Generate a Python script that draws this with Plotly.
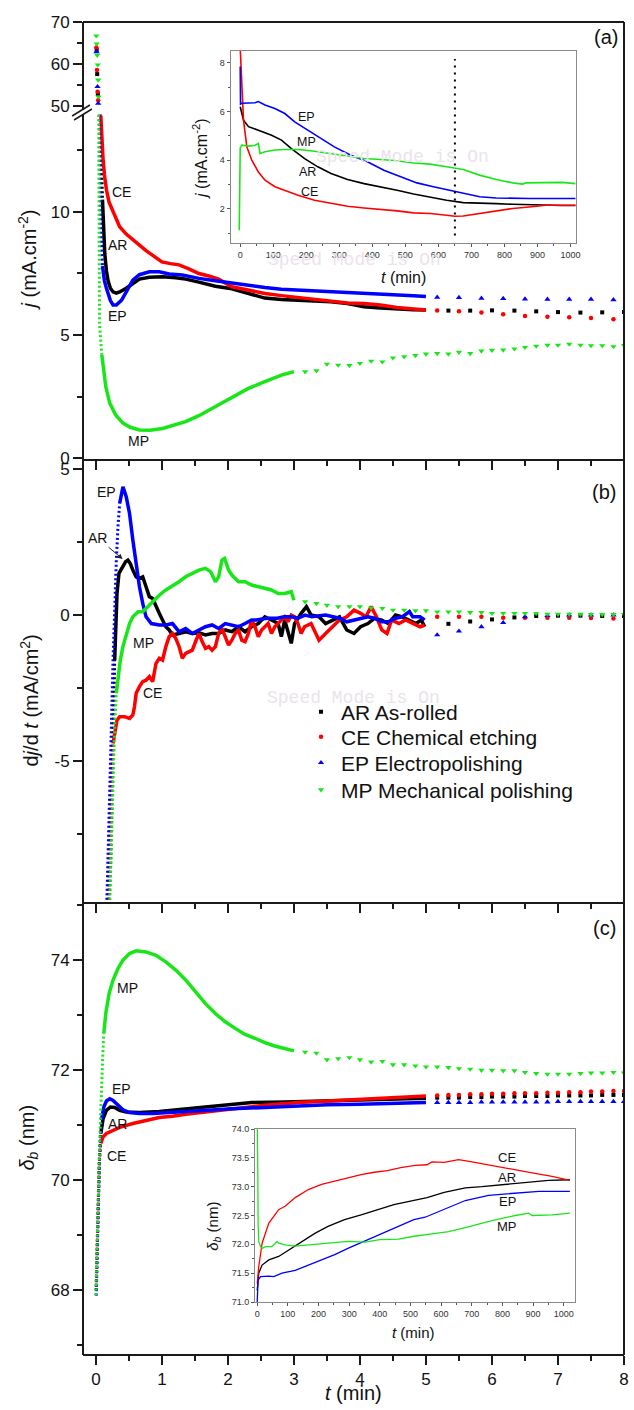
import plotly.graph_objects as go

# ====================== DATA ======================
# ---- Panel (a): current density j (mA.cm-2) vs t (min)
# upper (broken) part of the axis: first points
a_top_ar_t = [0.012, 0.02, 0.03]
a_top_ar_j = [63.3, 57.6, 52.9]
a_top_ce_t = [0.008, 0.016, 0.026, 0.035]
a_top_ce_j = [63.9, 58.6, 53.4, 51.4]
a_top_ep_t = [0.01, 0.025, 0.035]
a_top_ep_j = [62.9, 54.6, 50.6]
a_top_mp_t = [0.005, 0.012, 0.02, 0.028, 0.035, 0.04]
a_top_mp_j = [66.7, 64.8, 62.1, 59.8, 56.2, 52.2]
# steep (sparsely sampled) initial drop
a_st_ar_t = [0.065, 0.07, 0.08, 0.09, 0.1]
a_st_ar_j = [14.5, 13.8, 12.4, 11.3, 10.5]
a_st_ce_t = [0.068, 0.075]
a_st_ce_j = [14.5, 13.9]
a_st_ep_t = [0.055, 0.06, 0.07, 0.085, 0.1]
a_st_ep_j = [14.5, 12.2, 10.0, 8.7, 7.8]
a_st_mp_t = [0.042, 0.045, 0.048, 0.055, 0.07, 0.09]
a_st_mp_j = [14.5, 12.0, 8.0, 5.5, 4.9, 4.2]
# dense part
a_ar_t = [0.1, 0.11, 0.135, 0.16, 0.185, 0.22, 0.26, 0.31, 0.36, 0.46, 0.56, 0.66, 0.81, 1.01, 1.21, 1.36,
          1.56, 1.81, 2.06, 2.31, 2.56, 2.81, 3.06, 3.31, 3.56, 3.81, 4.06, 4.31, 4.56, 4.81, 5.0]
a_ar_j = [10.5, 9.6, 8.3, 7.6, 7.2, 6.9, 6.75, 6.7, 6.75, 6.9, 7.1, 7.27, 7.35, 7.37, 7.33, 7.27,
          7.15, 6.98, 6.88, 6.7, 6.5, 6.44, 6.41, 6.38, 6.35, 6.28, 6.15, 6.1, 6.05, 6.03, 6.02]
a_ce_t = [0.075, 0.09, 0.11, 0.13, 0.16, 0.2, 0.26, 0.36, 0.46, 0.56, 0.66, 0.76, 0.88, 1.0, 1.13, 1.26, 1.4,
          1.56, 1.71, 1.86, 2.06, 2.31, 2.56, 2.81, 3.06, 3.31, 3.56, 3.81, 4.06, 4.31, 4.56, 4.81, 5.0]
a_ce_j = [13.9, 12.9, 12.1, 11.5, 10.9, 10.4, 10.0, 9.4, 9.1, 8.86, 8.65, 8.43, 8.2, 7.97, 7.9, 7.85, 7.7,
          7.5, 7.4, 7.27, 6.96, 6.82, 6.69, 6.6, 6.52, 6.45, 6.38, 6.3, 6.28, 6.22, 6.12, 6.06, 6.02]
a_ep_t = [0.1, 0.13, 0.16, 0.185, 0.22, 0.26, 0.31, 0.39, 0.47, 0.56, 0.66, 0.81, 0.96, 1.11, 1.31,
          1.56, 1.81, 2.06, 2.31, 2.56, 2.81, 3.06, 3.31, 3.56, 3.81, 4.06, 4.31, 4.56, 4.81, 5.0]
a_ep_j = [7.8, 7.2, 6.9, 6.7, 6.4, 6.22, 6.22, 6.42, 6.8, 7.23, 7.45, 7.57, 7.57, 7.48, 7.44,
          7.3, 7.2, 7.1, 7.0, 6.93, 6.86, 6.83, 6.8, 6.76, 6.72, 6.69, 6.65, 6.62, 6.59, 6.56]
a_mp_t = [0.09, 0.11, 0.15, 0.21, 0.3, 0.41, 0.52, 0.66, 0.82, 1.01, 1.16, 1.36, 1.56, 1.81, 2.06,
          2.31, 2.56, 2.81, 3.0]
a_mp_j = [4.2, 3.7, 2.9, 2.23, 1.75, 1.42, 1.25, 1.14, 1.13, 1.2, 1.32, 1.48, 1.72, 2.09, 2.45,
          2.83, 3.1, 3.37, 3.51]
# sparse tail points
t_sp_ce_ep = [5.17, 5.5, 5.84, 6.17, 6.5, 6.84, 7.17, 7.5, 7.84]
t_sp_ar = [5.34, 5.67, 6.0, 6.34, 6.67, 7.0, 7.34, 7.67, 8.0]
t_sp_mp = [3.17, 3.34, 3.5, 3.67, 3.84, 4.0, 4.17, 4.34, 4.5, 4.67, 4.84, 5.0, 5.17, 5.34, 5.5,
           5.67, 5.84, 6.0, 6.17, 6.34, 6.5, 6.67, 6.84, 7.0, 7.17, 7.34, 7.5, 7.67, 7.84, 8.0]
a_sp_ar_j = [5.99, 5.99, 6.0, 5.99, 5.96, 5.93, 5.91, 5.92, 5.93]
a_sp_ce_j = [5.99, 5.96, 5.91, 5.84, 5.77, 5.74, 5.72, 5.69, 5.64]
a_sp_ep_j = [6.53, 6.52, 6.49, 6.48, 6.46, 6.45, 6.45, 6.45, 6.43]
a_sp_mp_j = [3.51, 3.55, 3.82, 3.78, 3.76, 3.85, 3.94, 3.91, 4.07, 4.12, 4.17, 4.23, 4.25, 4.23, 4.3,
             4.25, 4.35, 4.38, 4.39, 4.44, 4.5, 4.55, 4.59, 4.59, 4.63, 4.59, 4.57, 4.57, 4.53, 4.58]

# ---- Panel (b): dj/dt (mA/cm2 per min)
b_st_ar_t = [0.2, 0.225, 0.245, 0.265, 0.275, 0.285]
b_st_ar_v = [-9.9, -8.39, -6.11, -3.82, -2.68, -1.54]
b_st_ce_t = [0.18, 0.2, 0.21, 0.225, 0.24, 0.26]
b_st_ce_v = [-9.9, -8.39, -7.25, -6.11, -4.97, -4.4]
b_st_ep_t = [0.165, 0.2, 0.235, 0.26, 0.29, 0.31, 0.335, 0.36]
b_st_ep_v = [-9.9, -7.25, -3.82, -1.54, 0.74, 1.88, 3.03, 3.82]
b_st_mp_t = [0.21, 0.225, 0.24, 0.255, 0.27, 0.285, 0.31]
b_st_mp_v = [-9.9, -8.39, -7.25, -6.11, -4.97, -3.82, -2.68]
b_ar_t = [0.285, 0.3, 0.32, 0.35, 0.4, 0.45, 0.485, 0.52, 0.56, 0.61, 0.66, 0.71, 0.76, 0.81, 0.86,
          0.91, 0.96, 1.01, 1.06, 1.11, 1.16, 1.26, 1.36, 1.46, 1.56, 1.66, 1.76, 1.86, 1.96, 2.06,
          2.16, 2.26, 2.36, 2.46, 2.56, 2.66, 2.76, 2.81, 2.86, 2.96, 3.01, 3.11, 3.19, 3.26, 3.38,
          3.48, 3.59, 3.69, 3.8, 3.91, 4.01, 4.12, 4.22, 4.33, 4.43, 4.54, 4.64, 4.75, 4.85, 4.93, 4.98]
b_ar_v = [-1.54, -0.40, 0.74, 1.43, 1.66, 1.83, 1.88, 1.77, 1.54, 1.31, 1.26, 1.31, 0.97, 0.63, 0.57,
          0.29, 0.06, -0.17, -0.40, -0.51, -0.68, -0.63, -0.57, -0.63, -0.61, -0.68, -0.63, -0.63, -0.51, -0.57,
          -0.40, -0.57, -0.40, -0.29, -0.06, -0.17, -0.29, -0.74, -0.17, -0.97, -0.29, 0.06, 0.29, 0.0, -0.06,
          -0.29, -0.17, -0.06, -0.51, -0.63, -0.40, -0.29, -0.11, -0.17, -0.29, 0.0, -0.06, -0.17, -0.29, -0.17, -0.40]
b_ce_t = [0.26, 0.285, 0.32, 0.36, 0.435, 0.51, 0.56, 0.585, 0.61, 0.66, 0.71, 0.76, 0.81, 0.86, 0.91,
          0.96, 1.01, 1.06, 1.11, 1.16, 1.21, 1.26, 1.31, 1.36, 1.41, 1.46, 1.51, 1.56, 1.61, 1.66,
          1.71, 1.76, 1.81, 1.86, 1.91, 1.96, 2.01, 2.06, 2.11, 2.16, 2.21, 2.26, 2.31, 2.36, 2.41,
          2.46, 2.51, 2.56, 2.61, 2.66, 2.71, 2.76, 2.86, 2.91, 2.96, 3.01, 3.06, 3.11, 3.16, 3.26,
          3.38, 3.48, 3.59, 3.69, 3.8, 3.91, 4.01, 4.09, 4.17, 4.25, 4.33, 4.41, 4.48, 4.59, 4.69,
          4.8, 4.91, 4.98]
b_ce_v = [-4.4, -4.05, -3.6, -3.48, -3.48, -3.54, -3.42, -3.14, -2.68, -2.45, -2.28, -2.23, -2.11, -2.28, -1.66,
          -1.48, -1.54, -1.08, -0.74, -0.63, -0.80, -1.08, -1.48, -1.31, -1.26, -1.20, -0.91, -0.63, -0.91, -1.14,
          -1.08, -1.20, -1.08, -0.63, -0.46, -0.74, -1.03, -0.86, -0.63, -0.51, -0.86, -0.91, -0.63, -0.17, -0.40,
          -0.74, -0.51, -0.40, -0.29, -0.63, -0.40, -0.29, -0.06, -0.23, 0.0, -0.06, -0.29, -0.63, -0.40, -0.29,
          -0.86, -0.63, -0.40, -0.17, -0.06, 0.17, 0.06, -0.06, 0.29, -0.06, -0.51, -0.63, -0.17, -0.29, -0.17,
          -0.29, -0.40, -0.34]
b_ep_t = [0.36, 0.39, 0.41, 0.46, 0.51, 0.56, 0.61, 0.66, 0.71, 0.76, 0.84, 0.96, 1.06, 1.16, 1.26,
          1.36, 1.46, 1.56, 1.66, 1.76, 1.86, 1.96, 2.06, 2.16, 2.26, 2.36, 2.43, 2.59, 2.75, 2.85,
          2.96, 3.06, 3.17, 3.27, 3.48, 3.59, 3.69, 3.8, 3.91, 4.01, 4.12, 4.22, 4.33, 4.43, 4.54,
          4.64, 4.75, 4.8, 4.91, 4.98]
b_ep_v = [3.82, 4.28, 4.39, 4.05, 3.48, 2.57, 1.66, 0.97, 0.40, -0.06, -0.29, -0.34, -0.34, -0.29, -0.57,
          -0.46, -0.63, -0.51, -0.40, -0.34, -0.46, -0.29, -0.34, -0.40, -0.29, -0.17, -0.17, -0.11, -0.11, -0.06,
          -0.06, -0.11, 0.0, -0.06, 0.0, -0.06, -0.11, -0.23, -0.17, -0.11, -0.06, -0.11, -0.23, -0.23, -0.11,
          -0.06, 0.12, -0.06, -0.06, -0.17]
b_mp_t = [0.31, 0.335, 0.37, 0.41, 0.46, 0.51, 0.56, 0.64, 0.71, 0.79, 0.86, 0.96, 1.06, 1.16, 1.26,
          1.36, 1.46, 1.56, 1.66, 1.74, 1.81, 1.86, 1.91, 1.95, 2.01, 2.06, 2.16, 2.26, 2.36, 2.46,
          2.56, 2.66, 2.76, 2.86, 2.96, 2.99, 3.0]
b_mp_v = [-2.68, -2.11, -1.54, -1.08, -0.63, -0.29, -0.06, 0.11, 0.11, 0.29, 0.46, 0.68, 0.86, 0.99, 1.14,
          1.31, 1.43, 1.54, 1.60, 1.48, 1.14, 1.31, 1.88, 1.94, 1.54, 1.37, 1.14, 1.14, 1.03, 0.97,
          0.91, 0.86, 0.74, 0.74, 0.80, 0.63, 0.51]
b_sp_ar_v = [-0.30, -0.22, -0.15, -0.08, -0.03, -0.02, -0.02, -0.03, -0.03]
b_sp_ce_v = [-0.06, -0.06, -0.06, -0.09, -0.09, -0.09, -0.09, -0.10, -0.12]
b_sp_ep_v = [-0.68, -0.55, -0.40, -0.26, -0.06, -0.02, 0.0, 0.0, 0.0]
b_sp_mp_v = [0.46, 0.40, 0.34, 0.29, 0.29, 0.29, 0.25, 0.23, 0.17, 0.17, 0.15, 0.15, 0.11, 0.11, 0.11,
             0.09, 0.09, 0.06, 0.06, 0.06, 0.06, 0.06, 0.03, 0.03, 0.03, 0.03, 0.02, 0.02, 0.02, 0.02]

# ---- Panel (c): delta_b (nm)
c_st_ar_t = [0.005, 0.015, 0.025, 0.04, 0.055, 0.075]
c_st_ar_d = [68.0, 68.61, 69.21, 69.82, 70.42, 70.85]
c_st_ce_t = [0.005, 0.015, 0.025, 0.04, 0.055, 0.075]
c_st_ce_d = [68.06, 68.67, 69.27, 69.88, 70.36, 70.67]
c_st_ep_t = [0.005, 0.01, 0.02, 0.03, 0.045, 0.06, 0.085]
c_st_ep_d = [67.9, 68.18, 68.79, 69.39, 70.0, 70.61, 71.09]
c_st_mp_t = [0.0, 0.01, 0.02, 0.035, 0.05, 0.065, 0.08, 0.1, 0.12]
c_st_mp_d = [67.91, 68.48, 69.09, 69.7, 70.3, 70.91, 71.52, 72.12, 72.67]
c_ar_t = [0.075, 0.11, 0.16, 0.22, 0.285, 0.36, 0.46, 0.66, 0.96, 1.36, 1.86, 2.36, 2.86, 3.36, 3.86, 4.36, 5.0]
c_ar_d = [70.85, 71.12, 71.27, 71.33, 71.32, 71.27, 71.24, 71.23, 71.25, 71.30, 71.36, 71.41, 71.42, 71.44,
          71.46, 71.47, 71.49]
c_ce_t = [0.075, 0.11, 0.16, 0.26, 0.36, 0.56, 0.76, 0.96, 1.16, 1.36, 1.66, 2.06, 2.56, 3.06, 3.5, 4.0, 4.5, 5.0]
c_ce_d = [70.67, 70.79, 70.85, 70.91, 70.96, 71.03, 71.09, 71.14, 71.16, 71.2, 71.24, 71.3, 71.36, 71.41,
          71.44, 71.47, 71.50, 71.53]
c_ep_t = [0.085, 0.12, 0.16, 0.21, 0.26, 0.335, 0.41, 0.51, 0.66, 0.86, 1.16, 1.56, 2.06, 2.56, 3.0, 3.5, 4.0, 4.5, 5.0]
c_ep_d = [71.09, 71.33, 71.44, 71.48, 71.45, 71.36, 71.28, 71.23, 71.21, 71.21, 71.23, 71.27, 71.30, 71.32,
          71.35, 71.37, 71.38, 71.40, 71.41]
c_mp_t = [0.12, 0.15, 0.2, 0.26, 0.335, 0.41, 0.51, 0.61, 0.76, 0.91, 1.06, 1.21, 1.36, 1.51, 1.66, 1.81,
          1.91, 1.96, 2.11, 2.26, 2.41, 2.56, 2.71, 2.86, 3.0]
c_mp_d = [72.67, 73.03, 73.39, 73.64, 73.85, 74.0, 74.12, 74.17, 74.15, 74.09, 73.97, 73.82, 73.64, 73.42,
          73.21, 73.03, 72.93, 72.88, 72.76, 72.65, 72.58, 72.5, 72.44, 72.39, 72.35]
t_sp_c = [5.17, 5.34, 5.5, 5.67, 5.84, 6.0, 6.17, 6.34, 6.5, 6.67, 6.84, 7.0, 7.17, 7.34, 7.5, 7.67, 7.84, 8.0]
c_sp_ar_d = [71.50, 71.50, 71.50, 71.51, 71.51, 71.52, 71.52, 71.52, 71.53, 71.53, 71.53, 71.54, 71.54,
             71.54, 71.54, 71.55, 71.55, 71.55]
c_sp_ce_d = [71.54, 71.55, 71.55, 71.56, 71.56, 71.57, 71.57, 71.58, 71.58, 71.58, 71.59, 71.59, 71.6,
             71.6, 71.61, 71.61, 71.62, 71.62]
c_sp_ep_d = [71.41, 71.41, 71.41, 71.41, 71.42, 71.42, 71.42, 71.42, 71.42, 71.42, 71.42, 71.43, 71.43,
             71.43, 71.43, 71.43, 71.43, 71.43]
c_sp_mp_d = [72.33, 72.31, 72.19, 72.21, 72.23, 72.19, 72.15, 72.16, 72.10, 72.10, 72.08, 72.06, 72.06,
             72.05, 72.03, 72.02, 72.0, 72.0, 71.99, 71.99, 71.96, 71.94, 71.93, 71.93, 71.93, 71.94,
             71.95, 71.95, 71.96, 71.95]

# ---- Inset (a): j vs t over 1000 min
ia_ce_t = [0, 5, 10, 20, 35, 55, 75, 105, 135, 175, 225, 275, 325, 375, 425, 475, 525, 575, 625, 650,
           675, 725, 775, 825, 875, 925, 975, 1015]
ia_ce_j = [8.6, 7.01, 5.64, 4.54, 3.99, 3.51, 3.17, 2.90, 2.76, 2.55, 2.35, 2.21, 2.10, 2.03, 1.98, 1.91,
           1.83, 1.80, 1.73, 1.69, 1.70, 1.80, 1.91, 2.01, 2.07, 2.14, 2.14, 2.14]
ia_ar_t = [0, 10, 25, 55, 95, 125, 155, 195, 235, 275, 325, 375, 425, 475, 525, 575, 625, 675, 725, 775,
           825, 875, 925, 975, 1015]
ia_ar_j = [6.19, 5.64, 5.37, 5.23, 5.02, 4.82, 4.47, 4.06, 3.72, 3.45, 3.20, 3.03, 2.90, 2.76, 2.60, 2.46,
           2.35, 2.25, 2.24, 2.21, 2.18, 2.16, 2.13, 2.13, 2.13]
ia_ep_t = [0, 1, 5, 25, 45, 55, 75, 105, 135, 165, 205, 245, 285, 335, 385, 435, 485, 535, 585, 635,
           675, 725, 775, 825, 875, 925, 975, 1015]
ia_ep_j = [7.84, 6.3, 6.33, 6.33, 6.35, 6.4, 6.26, 6.12, 5.91, 5.57, 5.23, 4.89, 4.54, 4.20, 3.93, 3.58,
           3.31, 3.06, 2.90, 2.76, 2.62, 2.49, 2.44, 2.42, 2.42, 2.42, 2.42, 2.42]
ia_mp_t = [-3, -2, 0, 2, 5, 25, 45, 55, 60, 75, 105, 135, 175, 225, 275, 325, 375, 425, 475, 525,
           575, 625, 675, 725, 775, 825, 855, 865, 925, 975, 1015]
ia_mp_j = [1.11, 3.5, 4.5, 4.54, 4.61, 4.57, 4.61, 4.68, 4.27, 4.34, 4.41, 4.43, 4.43, 4.36, 4.27, 4.16,
           4.06, 4.02, 3.97, 3.88, 3.83, 3.72, 3.61, 3.38, 3.20, 3.06, 3.01, 3.06, 3.08, 3.08, 3.03]
ia_mark_t = 650   # dotted vertical marker in inset (a)

# ---- Inset (c): delta_b vs t over 1000 min
ic_ce_t = [0, 5, 16, 38, 70, 91, 124, 167, 210, 253, 298, 339, 382, 425, 468, 516, 554, 570, 610, 657,
           701, 750, 788, 840, 897, 962, 1020]
ic_ce_d = [71.32, 71.61, 72.02, 72.37, 72.6, 72.66, 72.81, 72.95, 73.04, 73.1, 73.16, 73.21, 73.25, 73.28,
           73.33, 73.37, 73.38, 73.43, 73.42, 73.47, 73.43, 73.38, 73.34, 73.3, 73.24, 73.18, 73.11]
ic_ar_t = [0, 5, 16, 38, 70, 102, 145, 188, 231, 285, 339, 392, 446, 500, 554, 610, 679, 733, 790, 842,
           900, 951, 1020]
ic_ar_d = [71.2, 71.5, 71.64, 71.73, 71.79, 71.9, 72.05, 72.19, 72.31, 72.43, 72.51, 72.6, 72.69, 72.75,
           72.81, 72.9, 72.98, 73.0, 73.03, 73.06, 73.09, 73.11, 73.12]
ic_ep_t = [0, 3, 11, 38, 54, 81, 124, 167, 210, 253, 296, 339, 382, 425, 468, 511, 548, 625, 679, 755,
           842, 919, 1020]
ic_ep_d = [71.0, 71.38, 71.44, 71.45, 71.44, 71.5, 71.55, 71.64, 71.73, 71.82, 71.93, 72.03, 72.14, 72.24,
           72.34, 72.43, 72.47, 72.64, 72.76, 72.85, 72.89, 72.92, 72.92]
ic_mp_t = [0, 1, 2, 3, 5, 11, 16, 27, 48, 59, 65, 70, 91, 124, 167, 210, 253, 296, 352, 400, 461, 511,
           570, 625, 679, 766, 842, 886, 897, 962, 1020]
ic_mp_d = [74.3, 74.0, 73.18, 72.37, 72.05, 71.96, 71.93, 71.96, 71.96, 72.02, 72.05, 72.02, 71.99, 71.97,
           71.99, 72.01, 72.02, 72.05, 72.04, 72.08, 72.09, 72.14, 72.18, 72.22, 72.29, 72.41, 72.5, 72.54,
           72.5, 72.51, 72.54]

series_names = {"AR": "AR As-rolled", "CE": "CE Chemical etching",
                "EP": "EP Electropolishing", "MP": "MP Mechanical polishing"}

# ====================== STYLE / LAYOUT ======================
W, H = 634, 1410
ML, MR, MT, MB = 83, 5, 22, 55
PW, PH = W - ML - MR, H - MT - MB
BOT = H - MB
FONT = "Liberation Sans, Arial, sans-serif"
FR = "#1a1a1a"
COL = {"AR": "#000000", "CE": "#ff0000", "EP": "#0000ff", "MP": "#19e619"}
SYM = {"AR": "square", "CE": "circle", "EP": "triangle-up", "MP": "triangle-down"}
MSZ = {"AR": 4, "CE": 4.5, "EP": 5.5, "MP": 5.5}
LEG = {"AR": ("legend", 712), "CE": ("legend2", 737), "EP": ("legend3", 763), "MP": ("legend4", 790)}


def px(x):
    return (x - ML) / PW


def py(y):
    return (BOT - y) / PH


def ydom(top, bot):
    return [py(bot), py(top)]


fig = go.Figure()


def line(t, y, k, xa, ya, w=3.5):
    assert len(t) == len(y)
    fig.add_trace(go.Scatter(x=t, y=y, mode="lines", line=dict(color=COL[k], width=w),
                             xaxis=xa, yaxis=ya, showlegend=False, hoverinfo="skip"))


def dotted(t, y, k, xa, ya):
    assert len(t) == len(y)
    fig.add_trace(go.Scatter(x=t, y=y, mode="lines",
                             line=dict(color=COL[k], width=3, dash="2px,2.5px"),
                             xaxis=xa, yaxis=ya, showlegend=False, hoverinfo="skip"))


def marks(t, y, k, xa, ya, legend=False):
    assert len(t) == len(y)
    extra = dict(legend=LEG[k][0]) if legend else {}
    fig.add_trace(go.Scatter(x=t, y=y, mode="markers", name=series_names[k],
                             marker=dict(symbol=SYM[k], size=MSZ[k], color=COL[k], line=dict(width=0)),
                             xaxis=xa, yaxis=ya, showlegend=legend, hoverinfo="skip", **extra))


# Panel (a)
A = {
    "AR": (a_top_ar_t, a_top_ar_j, a_st_ar_t, a_st_ar_j, a_ar_t, a_ar_j, t_sp_ar, a_sp_ar_j),
    "CE": (a_top_ce_t, a_top_ce_j, a_st_ce_t, a_st_ce_j, a_ce_t, a_ce_j, t_sp_ce_ep, a_sp_ce_j),
    "EP": (a_top_ep_t, a_top_ep_j, a_st_ep_t, a_st_ep_j, a_ep_t, a_ep_j, t_sp_ce_ep, a_sp_ep_j),
    "MP": (a_top_mp_t, a_top_mp_j, a_st_mp_t, a_st_mp_j, a_mp_t, a_mp_j, t_sp_mp, a_sp_mp_j),
}
for k, (tt, tj, st, sj, dt, dj, spt, spj) in A.items():
    marks(tt, tj, k, "x3", "y4")
    dotted(st, sj, k, "x3", "y3")
    line(dt, dj, k, "x3", "y3")
    marks(spt, spj, k, "x3", "y3", legend=True)

# Panel (b)
B = {
    "AR": (b_st_ar_t, b_st_ar_v, b_ar_t, b_ar_v, t_sp_ar, b_sp_ar_v),
    "CE": (b_st_ce_t, b_st_ce_v, b_ce_t, b_ce_v, t_sp_ce_ep, b_sp_ce_v),
    "EP": (b_st_ep_t, b_st_ep_v, b_ep_t, b_ep_v, t_sp_ce_ep, b_sp_ep_v),
    "MP": (b_st_mp_t, b_st_mp_v, b_mp_t, b_mp_v, t_sp_mp, b_sp_mp_v),
}
for k, (st, sv, dt, dv, spt, spv) in B.items():
    dotted(st, sv, k, "x2", "y2")
    line(dt, dv, k, "x2", "y2")
    marks(spt, spv, k, "x2", "y2")

# Panel (c)
C = {
    "AR": (c_st_ar_t, c_st_ar_d, c_ar_t, c_ar_d, t_sp_c, c_sp_ar_d),
    "CE": (c_st_ce_t, c_st_ce_d, c_ce_t, c_ce_d, t_sp_c, c_sp_ce_d),
    "EP": (c_st_ep_t, c_st_ep_d, c_ep_t, c_ep_d, t_sp_c, c_sp_ep_d),
    "MP": (c_st_mp_t, c_st_mp_d, c_mp_t, c_mp_d, t_sp_mp, c_sp_mp_d),
}
for k, (st, sd, dt, dd, spt, spd) in C.items():
    dotted(st, sd, k, "x", "y")
    line(dt, dd, k, "x", "y")
    marks(spt, spd, k, "x", "y")

# Insets
for k, (t, j) in {"AR": (ia_ar_t, ia_ar_j), "CE": (ia_ce_t, ia_ce_j),
                  "EP": (ia_ep_t, ia_ep_j), "MP": (ia_mp_t, ia_mp_j)}.items():
    line(t, j, k, "x5", "y5", w=1.6)
for k, (t, d) in {"AR": (ic_ar_t, ic_ar_d), "CE": (ic_ce_t, ic_ce_d),
                  "EP": (ic_ep_t, ic_ep_d), "MP": (ic_mp_t, ic_mp_d)}.items():
    line(t, d, k, "x6", "y6", w=1.3)

# ---------------- axes ----------------
tick_main = dict(ticks="outside", ticklen=9, tickwidth=1.5, tickcolor=FR, showgrid=False,
                 zeroline=False, showline=False, tickfont=dict(size=17, color="#111", family=FONT))
minor_main = dict(ticks="outside", ticklen=5, tickwidth=1.5, tickcolor=FR, showgrid=False)

xcommon = dict(range=[-0.195, 8.0], tickmode="linear", tick0=0, dtick=1, domain=[0, 1],
               minor=dict(minor_main, tickmode="linear", tick0=0, dtick=0.5), **tick_main)

layout_axes = dict(
    xaxis=dict(xcommon, anchor="y"),
    xaxis2=dict(xcommon, anchor="y2", matches="x", showticklabels=False),
    xaxis3=dict(xcommon, anchor="y3", matches="x", showticklabels=False),
    yaxis=dict(domain=ydom(903, 1355), range=[66.82, 75.04], anchor="x",
               tickmode="array", tickvals=[68, 70, 72, 74],
               minor=dict(minor_main, tickmode="array", tickvals=[67, 69, 71, 73, 75]), **tick_main),
    yaxis2=dict(domain=ydom(460, 903), range=[-9.86, 5.31], anchor="x2",
                tickmode="array", tickvals=[-5, 0, 5], ticktext=["-5", "0", "5"],
                minor=dict(minor_main, tickmode="array", tickvals=[-7.5, -2.5, 2.5]), **tick_main),
    yaxis3=dict(domain=ydom(114, 460), range=[-0.08, 13.98], anchor="x3",
                tickmode="array", tickvals=[0, 5, 10],
                minor=dict(minor_main, tickmode="array", tickvals=[2.5, 7.5, 12.5]), **tick_main),
    yaxis4=dict(domain=ydom(22, 110), range=[49.05, 70], anchor="x3",
                tickmode="array", tickvals=[50, 60, 70],
                minor=dict(minor_main, tickmode="array", tickvals=[55, 65]), **tick_main),
)

tick_in = dict(ticks="outside", ticklen=3, tickwidth=1, tickcolor="#555", showgrid=False,
               zeroline=False, showline=True, mirror=True, linecolor="#8a8a8a", linewidth=1.2,
               tickfont=dict(size=9, color="#333", family=FONT))
minor_in = dict(ticks="outside", ticklen=2, tickwidth=1, tickcolor="#555", showgrid=False)
layout_axes.update(
    xaxis5=dict(domain=[px(232), px(581)], anchor="y5", range=[-29, 1018], tickmode="linear",
                tick0=0, dtick=100, minor=dict(minor_in, tickmode="linear", tick0=0, dtick=50), **tick_in),
    yaxis5=dict(domain=ydom(51, 243), anchor="x5", range=[0.59, 8.48], tickmode="linear",
                tick0=0, dtick=2, minor=dict(minor_in, tickmode="linear", tick0=0, dtick=1), **tick_in),
    xaxis6=dict(domain=[px(256.7), px(579.3)], anchor="y6", range=[-6.8, 1036], tickmode="linear",
                tick0=0, dtick=100, minor=dict(minor_in, tickmode="linear", tick0=0, dtick=50), **tick_in),
    yaxis6=dict(domain=ydom(1129, 1302), anchor="x6", range=[71.0, 74.0], tickmode="linear",
                tick0=71, dtick=0.5, tickformat=".1f",
                minor=dict(minor_in, tickmode="linear", tick0=71, dtick=0.25), **tick_in),
)

# ---------------- legends (one per row, to match row spacing) ----------------
for k, (lname, rowy) in LEG.items():
    layout_axes[lname] = dict(x=px(303), y=py(rowy), xanchor="left", yanchor="middle",
                              bgcolor="rgba(0,0,0,0)", font=dict(size=21, family=FONT, color="#111"),
                              itemsizing="trace")

# ---------------- frames ----------------
shapes = []


def seg(x0, y0, x1, y1, w=2, color=FR):
    shapes.append(dict(type="line", xref="paper", yref="paper", x0=x0, y0=y0, x1=x1, y1=y1,
                       line=dict(color=color, width=w), layer="above"))


seg(0, py(1355), 1, py(1355))
seg(0, py(903), 1, py(903))
seg(0, py(460), 1, py(460))
seg(0, 1, 1, 1)
seg(1, py(1355), 1, 1)
seg(0, py(1355), 0, py(114))
seg(0, py(110), 0, 1)
# axis-break marks
seg(px(72), py(116), px(90), py(105), w=1.5)
seg(px(74), py(120), px(92), py(109), w=1.5)
# dotted vertical marker in inset (a)
shapes.append(dict(type="line", xref="x5", yref="y5", x0=ia_mark_t, x1=ia_mark_t, y0=0.9, y1=8.15,
                   line=dict(color="#000", width=2, dash="2px,5px")))

# ---------------- annotations ----------------
ann = []


def txt(x, y, s, size=14, xref="paper", yref="paper", angle=0, color="#111", family=FONT, **kw):
    ann.append(dict(x=x, y=y, xref=xref, yref=yref, text=s, showarrow=False, textangle=angle,
                    font=dict(size=size, color=color, family=family), xanchor="center",
                    yanchor="middle", **kw))


# faint watermark text present in the reference picture
for (wx, wy) in [(405, 157), (357, 260), (356, 698)]:
    txt(px(wx), py(wy), "Speed Mode is On", size=18, color="#ebe3ec", family="Liberation Mono, monospace")

# axis titles
txt(px(27), py(260), "<i>j</i> (mA.cm<sup>-2</sup>)", size=20, angle=-90)
txt(px(28), py(701), "d<i>j</i>/d <i>t</i> (mA/cm<sup>2</sup>)", size=20, angle=-90)
txt(px(27), py(1138), "<i>δ<sub>b</sub></i> (nm)", size=20, angle=-90)
txt(px(356), py(1393), "<i>t</i> (min)", size=20)
# inset titles
txt(px(201), py(159), "<i>j</i> (mA.cm<sup>-2</sup>)", size=16, angle=-90)
txt(px(406), py(278), "<i>t</i> (min)", size=16)
txt(px(214), py(1226), "<i>δ<sub>b</sub></i> (nm)", size=15, angle=-90)
txt(px(417), py(1332), "<i>t</i> (min)", size=15)
# panel letters
txt(px(611), py(37), "(a)", size=20)
txt(px(609), py(492), "(b)", size=20)
txt(px(609), py(928), "(c)", size=20)
# curve labels panel (a)
for s, x, y in [("CE", 0.386, 10.83), ("AR", 0.335, 8.66), ("EP", 0.32, 5.77), ("MP", 0.65, 0.70)]:
    txt(x, y, s, size=14, xref="x3", yref="y3")
# panel (b)
for s, x, y in [("EP", 0.165, 4.21), ("MP", 0.72, -0.96), ("CE", 0.855, -2.67)]:
    txt(x, y, s, size=14, xref="x2", yref="y2")
ann.append(dict(x=0.405, y=1.92, xref="x2", yref="y2", text="AR", showarrow=True, ax=-25, ay=-21,
                arrowhead=2, arrowsize=1, arrowwidth=1, arrowcolor="#222",
                font=dict(size=14, color="#111", family=FONT)))
# panel (c)
for s, x, y in [("MP", 0.485, 73.49), ("EP", 0.386, 71.65), ("AR", 0.32, 71.03), ("CE", 0.31, 70.44)]:
    txt(x, y, s, size=14, xref="x", yref="y")
# inset labels
for s, x, y in [("EP", 200, 5.78), ("MP", 200, 4.75), ("AR", 205, 3.51), ("CE", 210, 2.69)]:
    txt(x, y, s, size=12.5, xref="x5", yref="y5")
for s, x, y in [("CE", 815, 73.51), ("AR", 815, 73.16), ("EP", 815, 72.74), ("MP", 815, 72.31)]:
    txt(x, y, s, size=13, xref="x6", yref="y6")

fig.update_layout(
    width=W, height=H, margin=dict(l=ML, r=MR, t=MT, b=MB, pad=0),
    paper_bgcolor="white", plot_bgcolor="white",
    font=dict(family=FONT, color="#111"),
    showlegend=True,
    shapes=shapes, annotations=ann,
    **layout_axes,
)

fig.write_html("out.html")
